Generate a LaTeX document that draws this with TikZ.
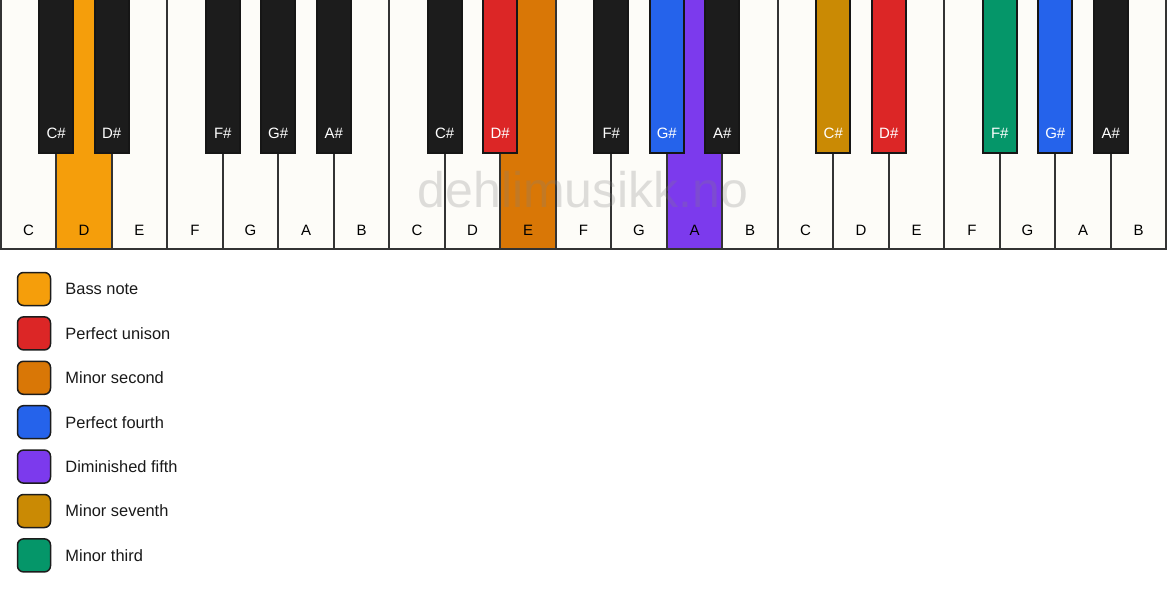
\documentclass[tikz,border=0pt]{standalone}
\usepackage{fontspec}
\setmainfont{Liberation Sans}
\usepackage{tikz}
\usetikzlibrary{positioning}
\definecolor{keywhite}{HTML}{FDFCF8}
\definecolor{keyblack}{HTML}{1C1C1C}
\definecolor{keyline}{HTML}{333333}
\definecolor{bass}{HTML}{F59E0B}
\definecolor{unison}{HTML}{DC2626}
\definecolor{minsecond}{HTML}{D97706}
\definecolor{fourth}{HTML}{2563EB}
\definecolor{dimfifth}{HTML}{7C3AED}
\definecolor{minseventh}{HTML}{CA8A04}
\definecolor{minthird}{HTML}{059669}
\tikzset{
  whitekey/.style={draw=keyline, line width=1.9pt},
  blackkey/.style={draw=keyblack!80!black, line width=1.9pt},
  keylabel/.style={font=\fontsize{15}{18}\selectfont, inner sep=0pt},
  legendbox/.style={draw=keyblack, line width=1.5pt, rounded corners=6pt, minimum size=33pt, inner sep=0pt},
  legendtext/.style={font=\fontsize{16.4}{19}\selectfont, text=black!90, inner sep=0pt}
}

\begin{document}
\begin{tikzpicture}[x=1pt, y=-1pt]
		\useasboundingbox[fill=white] (0,0) rectangle (1167,594);
		%% white keys: index / name / colour
		\foreach \i/\n/\c in {0/C/keywhite, 1/D/bass, 2/E/keywhite, 3/F/keywhite, 4/G/keywhite, 5/A/keywhite, 6/B/keywhite,
			7/C/keywhite, 8/D/keywhite, 9/E/minsecond, 10/F/keywhite, 11/G/keywhite, 12/A/dimfifth, 13/B/keywhite,
			14/C/keywhite, 15/D/keywhite, 16/E/keywhite, 17/F/keywhite, 18/G/keywhite, 19/A/keywhite, 20/B/keywhite}{
			\draw[whitekey, fill=\c] ({\i*55.5+0.75},-2) rectangle ++(55.5,251);
			\node[keylabel] (w\i) at ({\i*55.5+28.5},230) {\n};
		}
		%% watermark
		\node[font=\fontsize{50}{60}\selectfont, text=gray, text opacity=0.25, inner sep=0pt] (watermark) at (583,190) {dehlimusikk.no};
		%% black keys sit on the boundary between two white keys
		\foreach \k/\n/\c in {1/C/keyblack, 2/D/keyblack, 4/F/keyblack, 5/G/keyblack, 6/A/keyblack,
			8/C/keyblack, 9/D/unison, 11/F/keyblack, 12/G/fourth, 13/A/keyblack,
			15/C/minseventh, 16/D/unison, 18/F/minthird, 19/G/fourth, 20/A/keyblack}{
			\draw[blackkey, fill=\c] ({\k*55.5+0.75-17},-2) rectangle ++(34,155);
			\node[keylabel, text=white] (b\k) at ({\k*55.5+0.75},133) {\n\#};
		}
		%% legend
		\foreach \j/\c/\t in {0/bass/Bass note, 1/unison/Perfect unison, 2/minsecond/Minor second, 3/fourth/Perfect fourth,
			4/dimfifth/Diminished fifth, 5/minseventh/Minor seventh, 6/minthird/Minor third}{
			\node[legendbox, fill=\c] (sq\j) at (34,{289+44.4*\j}) {};
			\node[legendtext, right=14pt of sq\j] (lab\j) {\t};
		}
	\end{tikzpicture}
\end{document}
